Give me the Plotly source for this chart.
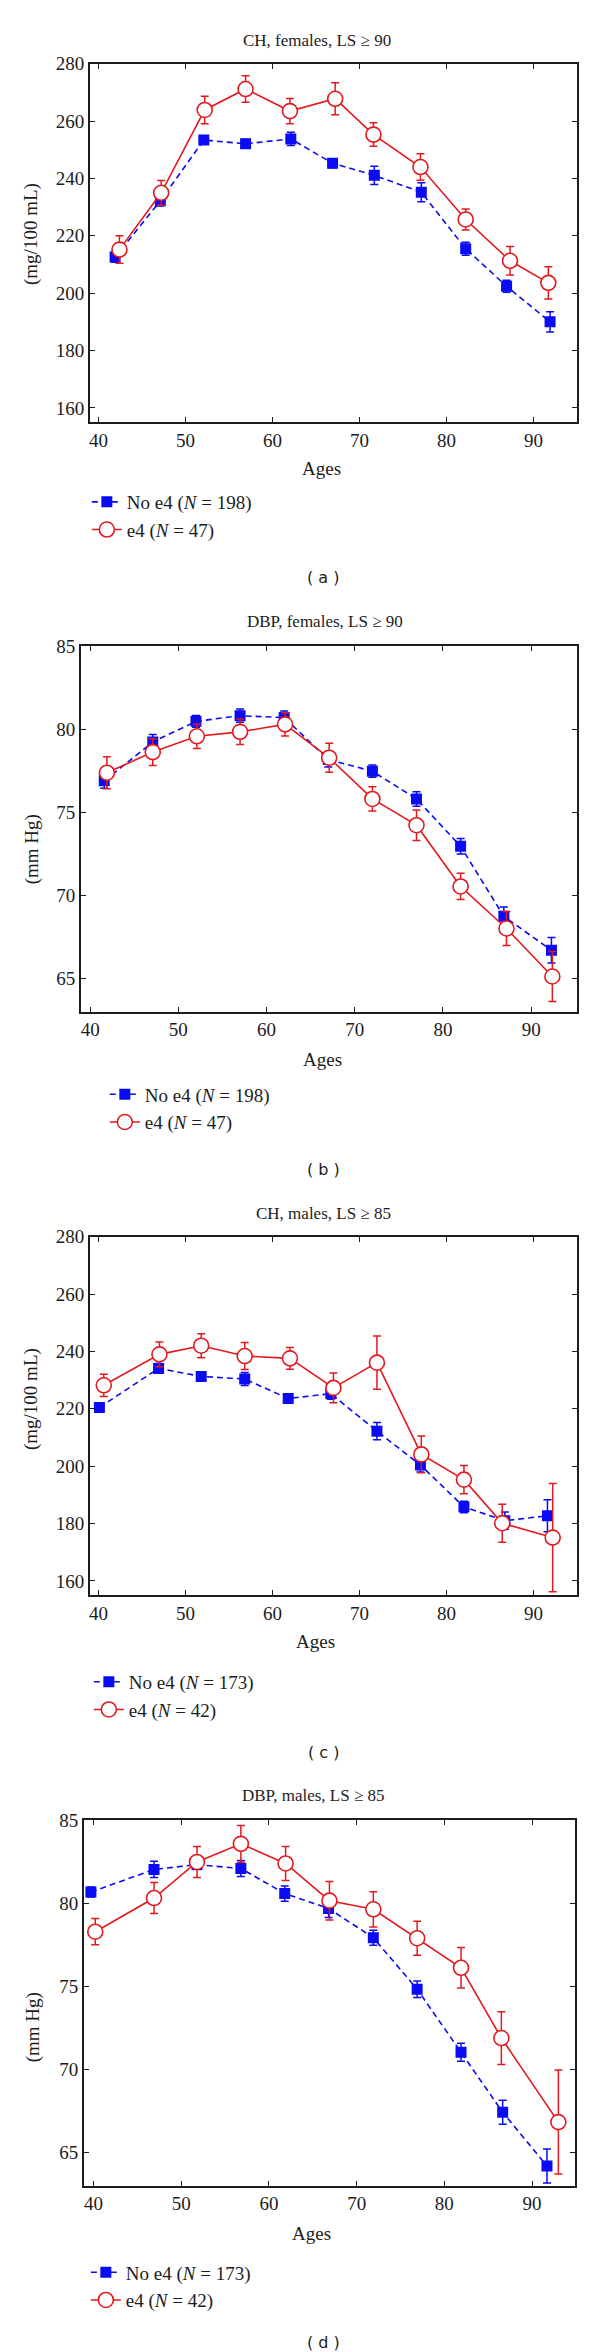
import plotly.graph_objects as go

# ---------------- data ----------------
# (a) CH, females
age_a_no = [41.9, 47.1, 52.1, 56.9, 62.1, 66.9, 71.7, 77.1, 82.2, 86.9, 91.9]
ch_f_no = [212.6, 232.2, 253.4, 252.1, 253.8, 245.3, 241.1, 235.2, 215.5, 202.4, 190.0]
ch_f_no_err = [1.8, 1.8, 1.5, 1.5, 2.3, 1.6, 3.2, 3.3, 2.3, 2.1, 3.5]
age_a_e4 = [42.4, 47.2, 52.2, 56.9, 62.0, 67.2, 71.6, 77.0, 82.2, 87.3, 91.7]
ch_f_e4 = [215.2, 235.0, 263.9, 271.2, 263.5, 267.8, 255.3, 244.0, 225.7, 211.3, 203.6]
ch_f_e4_err = [4.8, 4.3, 4.8, 4.6, 4.4, 5.6, 4.1, 4.6, 3.7, 5.0, 5.6]

# (b) DBP, females
age_b_no = [41.6, 47.1, 52.0, 57.0, 62.0, 67.0, 72.0, 77.0, 82.0, 86.9, 92.3]
dbp_f_no = [76.9, 79.24, 80.48, 80.82, 80.71, 78.18, 77.48, 75.81, 72.96, 68.74, 66.70]
dbp_f_no_err = [0.45, 0.45, 0.35, 0.4, 0.4, 0.45, 0.37, 0.44, 0.47, 0.56, 0.77]
age_b_e4 = [41.9, 47.1, 52.1, 57.0, 62.1, 67.1, 72.0, 77.0, 82.0, 87.2, 92.4]
dbp_f_e4 = [77.39, 78.63, 79.58, 79.85, 80.30, 78.29, 75.81, 74.23, 70.54, 68.01, 65.12]
dbp_f_e4_err = [0.96, 0.81, 0.73, 0.77, 0.70, 0.87, 0.73, 0.92, 0.79, 1.02, 1.5]

# (c) CH, males
age_c_no = [40.1, 46.9, 51.8, 56.8, 61.8, 66.7, 72.0, 77.0, 82.0, 86.7, 91.6]
ch_m_no = [220.5, 234.1, 231.3, 230.4, 223.6, 225.3, 212.2, 200.4, 185.8, 181.0, 182.7]
ch_m_no_err = [1.5, 1.7, 1.5, 2.3, 1.5, 2.0, 3.0, 2.4, 2.0, 3.0, 5.6]
age_c_e4 = [40.6, 47.0, 51.8, 56.8, 62.0, 67.0, 72.0, 77.1, 82.0, 86.4, 92.2]
ch_m_e4 = [228.2, 239.0, 242.0, 238.4, 237.6, 227.3, 236.1, 204.1, 195.3, 180.1, 175.1]
ch_m_e4_err = [3.9, 4.3, 4.2, 4.7, 3.8, 5.2, 9.3, 6.4, 4.9, 6.6, 18.9]

# (d) DBP, males
age_d_no = [39.7, 46.9, 51.8, 56.8, 61.8, 66.8, 71.9, 76.9, 81.9, 86.65, 91.7]
dbp_m_no = [80.68, 82.04, 82.33, 82.1, 80.59, 79.69, 77.93, 74.83, 71.03, 67.42, 64.19]
dbp_m_no_err = [0.3, 0.49, 0.3, 0.48, 0.46, 0.55, 0.45, 0.5, 0.54, 0.72, 1.02]
age_d_e4 = [40.2, 46.9, 51.8, 56.8, 61.9, 66.9, 71.9, 76.9, 81.9, 86.5, 93.0]
dbp_m_e4 = [78.29, 80.32, 82.49, 83.58, 82.40, 80.16, 79.64, 77.90, 76.12, 71.89, 66.83]
dbp_m_e4_err = [0.79, 0.94, 0.93, 1.1, 1.02, 1.16, 1.06, 1.02, 1.22, 1.59, 3.13]

titles = ["CH, females, LS \u2265 90", "DBP, females, LS \u2265 90",
          "CH, males, LS \u2265 85", "DBP, males, LS \u2265 85"]
ylabels = ["(mg/100 mL)", "(mm Hg)", "(mg/100 mL)", "(mm Hg)"]
panel_labels = ["( a )", "( b )", "( c )", "( d )"]
n_no = [198, 198, 173, 173]
n_e4 = [47, 47, 42, 42]
x_ticks = [40, 50, 60, 70, 80, 90]
ch_ticks = [160, 180, 200, 220, 240, 260, 280]
dbp_ticks = [65, 70, 75, 80, 85]

# ---------------- layout geometry (pixels) ----------------
W, H = 600, 2352
panels = [
    dict(l=89, r=577, t=54, b=414, xr=[39, 95], yr=[155, 280], ticks=ch_ticks,
         title=(317, 31), ages=(321, 460), ylab=(30, 225), leg=(86, 475), lab=(323, 570)),
    dict(l=80, r=577, t=639, b=1006, xr=[38.95, 95.2], yr=[63, 85], ticks=dbp_ticks,
         title=(325, 614), ages=(322, 1054), ylab=(31, 843), leg=(104, 1070), lab=(323, 1164)),
    dict(l=89, r=577, t=1232, b=1592, xr=[39, 95], yr=[155, 280], ticks=ch_ticks,
         title=(323, 1209), ages=(315, 1638), ylab=(30, 1395), leg=(88, 1660), lab=(323, 1750)),
    dict(l=83, r=575, t=1818, b=2185, xr=[38.9, 94.9], yr=[63, 85], ticks=dbp_ticks,
         title=(313, 1793), ages=(311, 2233), ylab=(32, 2026), leg=(85, 2253), lab=(323, 2342)),
]

series = [
    (age_a_no, ch_f_no, ch_f_no_err, age_a_e4, ch_f_e4, ch_f_e4_err),
    (age_b_no, dbp_f_no, dbp_f_no_err, age_b_e4, dbp_f_e4, dbp_f_e4_err),
    (age_c_no, ch_m_no, ch_m_no_err, age_c_e4, ch_m_e4, ch_m_e4_err),
    (age_d_no, dbp_m_no, dbp_m_no_err, age_d_e4, dbp_m_e4, dbp_m_e4_err),
]

BLUE = "#0a0af5"
RED = "#e3191e"
INK = "#1c1c1c"
SERIF = "Liberation Serif, Times New Roman, serif"
FS = 19

fig = go.Figure()
layout = dict(width=W, height=H, margin=dict(l=0, r=0, t=0, b=0),
              paper_bgcolor="white", plot_bgcolor="white", showlegend=True,
              annotations=[])

for i, (p, s) in enumerate(zip(panels, series)):
    k = "" if i == 0 else str(i + 1)
    xa, ya = "x" + k, "y" + k
    legname = "legend" + k
    ax_no, y_no, e_no, ax_e4, y_e4, e_e4 = s
    fig.add_trace(go.Scatter(
        x=ax_no, y=y_no, mode="lines+markers", xaxis=xa, yaxis=ya,
        name="No e4 (<i>N</i> = %d)" % n_no[i], legend=legname,
        line=dict(color=BLUE, width=1.6, dash="6px,4px"),
        marker=dict(symbol="square", size=11, color=BLUE),
        error_y=dict(type="data", array=e_no, color=BLUE, thickness=1.5, width=4),
    ))
    fig.add_trace(go.Scatter(
        x=ax_e4, y=y_e4, mode="lines+markers", xaxis=xa, yaxis=ya,
        name="e4 (<i>N</i> = %d)" % n_e4[i], legend=legname,
        line=dict(color=RED, width=1.6),
        marker=dict(symbol="circle", size=15, color="white",
                    line=dict(color=RED, width=1.6)),
        error_y=dict(type="data", array=e_e4, color=RED, thickness=1.5, width=4),
    ))
    axis_common = dict(showline=True, linecolor=INK, linewidth=1.5, mirror="ticks",
                       ticks="inside", ticklen=5, tickwidth=1.3, tickcolor=INK,
                       showgrid=False, zeroline=False,
                       tickfont=dict(family=SERIF, size=FS, color=INK))
    layout["xaxis" + k] = dict(domain=[p["l"] / W, p["r"] / W], range=p["xr"],
                               anchor=ya, tickvals=x_ticks, **axis_common)
    layout["yaxis" + k] = dict(domain=[1 - p["b"] / H, 1 - p["t"] / H], range=p["yr"],
                               anchor=xa, tickvals=p["ticks"], **axis_common)
    layout[legname] = dict(x=p["leg"][0] / W, y=1 - p["leg"][1] / H, xanchor="left",
                           yanchor="top", bgcolor="rgba(0,0,0,0)", tracegroupgap=0,
                           font=dict(family=SERIF, size=FS, color=INK))
    ann = layout["annotations"]
    ann.append(dict(text=titles[i], x=p["title"][0] / W, y=1 - p["title"][1] / H,
                    xref="paper", yref="paper", showarrow=False, xanchor="center",
                    yanchor="middle", font=dict(family=SERIF, size=17, color=INK)))
    ann.append(dict(text="Ages", x=p["ages"][0] / W, y=1 - p["ages"][1] / H,
                    xref="paper", yref="paper", showarrow=False, xanchor="center",
                    yanchor="middle", font=dict(family=SERIF, size=FS, color=INK)))
    ann.append(dict(text=ylabels[i], x=p["ylab"][0] / W, y=1 - p["ylab"][1] / H,
                    xref="paper", yref="paper", showarrow=False, xanchor="center",
                    yanchor="middle", textangle=-90,
                    font=dict(family=SERIF, size=FS, color=INK)))
    ann.append(dict(text=panel_labels[i], x=p["lab"][0] / W, y=1 - p["lab"][1] / H,
                    xref="paper", yref="paper", showarrow=False, xanchor="center",
                    yanchor="middle", font=dict(family="DejaVu Sans, sans-serif", size=16, color=INK)))

fig.update_layout(**layout)
fig.write_html("out.html", config={"displayModeBar": False},
               post_script="document.body.style.margin='0';document.body.style.padding='0';"
                           "document.documentElement.style.overflow='hidden';")
